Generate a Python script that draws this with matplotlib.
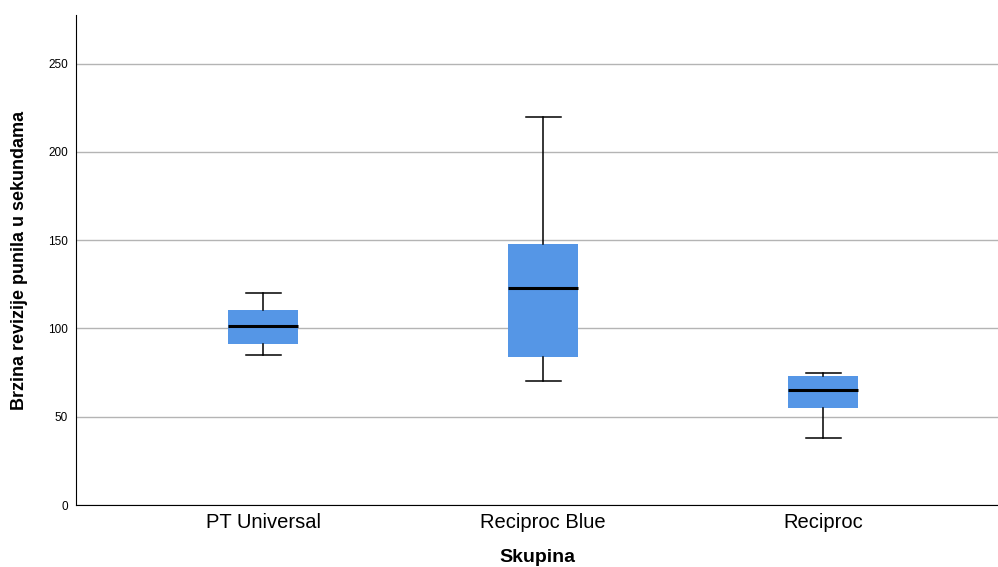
import matplotlib.pyplot as plt

plt.rcParams['font.family'] = ['Liberation Sans', 'DejaVu Sans']

groups = ['PT Universal', 'Reciproc Blue', 'Reciproc']
whisker_low = [85, 70, 38]
q1 = [91, 84, 55]
median = [101.5, 123, 65]
q3 = [110.5, 148, 73]
whisker_high = [120, 220, 75]

stats = []
for i, g in enumerate(groups):
    stats.append({'label': g, 'whislo': whisker_low[i], 'q1': q1[i], 'med': median[i],
                  'q3': q3[i], 'whishi': whisker_high[i], 'fliers': []})

fig = plt.figure(figsize=(9.98, 5.67), dpi=100)
ax = fig.add_axes([0.0762, 0.1093, 0.9238, 0.8642])

ax.bxp(stats, positions=range(len(groups)), widths=0.25, patch_artist=True,
       boxprops=dict(facecolor='#5596e6', edgecolor='#5596e6', linewidth=0),
       medianprops=dict(color='black', linewidth=2.2),
       whiskerprops=dict(color='black', linewidth=1.1),
       capprops=dict(color='black', linewidth=1.1), capwidths=0.125,
       showfliers=False, zorder=3)

ax.set_xlim(-0.668, 2.625)
ax.set_ylim(0, 277.5)
ax.set_yticks([0, 50, 100, 150, 200, 250])
ax.yaxis.grid(True, color='#b4b4b4', linewidth=1)
ax.set_axisbelow(True)
ax.spines['top'].set_visible(False)
ax.spines['right'].set_visible(False)
ax.tick_params(axis='both', length=0)
ax.tick_params(axis='y', labelsize=8.5, pad=6)
ax.tick_params(axis='x', labelsize=14.5, pad=6)
ax.set_xlabel('Skupina', fontsize=14, fontweight='bold', labelpad=12)
ax.set_ylabel('Brzina revizije punila u sekundama', fontsize=13, fontweight='bold', labelpad=14)

fig.savefig('out.png')
